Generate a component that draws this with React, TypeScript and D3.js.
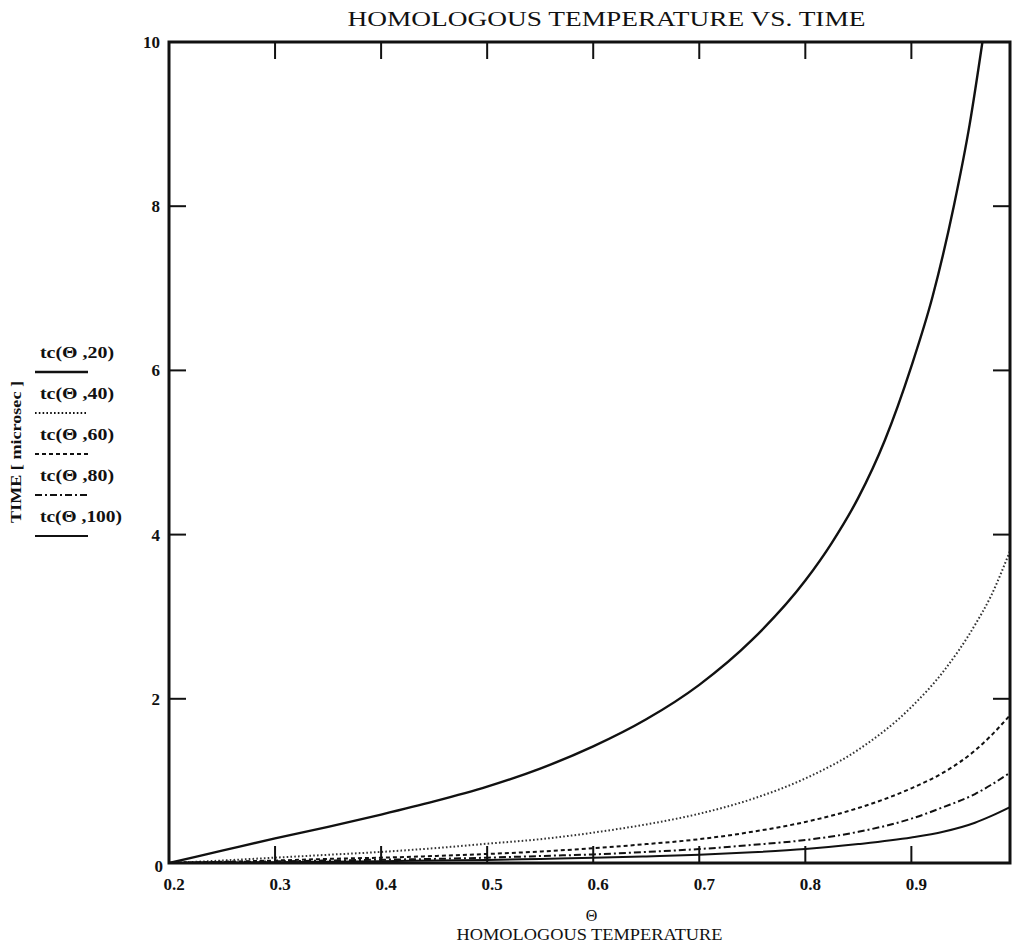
import React from "react";
import * as d3 from "d3";

// ---------- data ----------
const theta20 = [0.2, 0.25, 0.3, 0.35, 0.4, 0.45, 0.5, 0.55, 0.6, 0.65, 0.7, 0.75, 0.8, 0.825, 0.85, 0.875, 0.9, 0.92, 0.94, 0.955, 0.967];
const tc20 = [0, 0.15, 0.3, 0.44, 0.59, 0.75, 0.93, 1.15, 1.42, 1.75, 2.17, 2.72, 3.44, 3.9, 4.45, 5.15, 6.05, 6.9, 8.0, 9.0, 10.0];

const theta = [0.2, 0.25, 0.3, 0.35, 0.4, 0.45, 0.5, 0.55, 0.6, 0.65, 0.7, 0.75, 0.8, 0.85, 0.9, 0.93, 0.96, 0.975, 0.993];
const tc40 = [0, 0.03, 0.065, 0.1, 0.135, 0.18, 0.235, 0.29, 0.37, 0.47, 0.6, 0.78, 1.03, 1.38, 1.9, 2.33, 2.9, 3.25, 3.8];
const tc60 = [0, 0.015, 0.03, 0.05, 0.065, 0.085, 0.11, 0.14, 0.18, 0.23, 0.29, 0.38, 0.5, 0.67, 0.91, 1.1, 1.37, 1.55, 1.8];
const tc80 = [0, 0.01, 0.02, 0.03, 0.04, 0.05, 0.065, 0.085, 0.105, 0.135, 0.17, 0.22, 0.28, 0.38, 0.54, 0.68, 0.84, 0.95, 1.1];
const tc100 = [0, 0.005, 0.01, 0.016, 0.022, 0.03, 0.038, 0.05, 0.063, 0.08, 0.1, 0.13, 0.17, 0.23, 0.31, 0.38, 0.49, 0.57, 0.68];

const seriesLabels = ["tc(\u0398 ,20)", "tc(\u0398 ,40)", "tc(\u0398 ,60)", "tc(\u0398 ,80)", "tc(\u0398 ,100)"];
const xTicks = [0.2, 0.3, 0.4, 0.5, 0.6, 0.7, 0.8, 0.9];
const xTickLabels = ["0.2", "0.3", "0.4", "0.5", "0.6", "0.7", "0.8", "0.9"];
const yTicks = [0, 2, 4, 6, 8, 10];
const yTickLabels = ["0", "2", "4", "6", "8", "10"];

const title = "HOMOLOGOUS TEMPERATURE VS. TIME";
const xTitle = "HOMOLOGOUS TEMPERATURE";
const yTitle = "TIME [ microsec ]";

// ---------- layout ----------
const W = 1013;
const H = 951;
const left = 169;
const right = 1010;
const top = 42;
const bottom = 863;
const FONT = "'Liberation Serif', 'DejaVu Serif', serif";

const dashes = ["none", "1.6,2.2", "4,3", "7,3,2,3", "none"];
const widths = [2.4, 2, 2, 2, 2];

export default function App() {
  const x = d3.scaleLinear().domain([0.2, 0.993]).range([left, right]);
  const y = d3.scaleLinear().domain([0, 10]).range([bottom, top]);

  const line = d3
    .line<[number, number]>()
    .x((d) => x(d[0]))
    .y((d) => y(d[1]))
    .curve(d3.curveMonotoneX);

  const series: [number, number][][] = [
    theta20.map((t, i) => [t, tc20[i]]),
    theta.map((t, i) => [t, tc40[i]]),
    theta.map((t, i) => [t, tc60[i]]),
    theta.map((t, i) => [t, tc80[i]]),
    theta.map((t, i) => [t, tc100[i]]),
  ];

  const tickLen = 17;
  const legendY0 = 352;
  const legendStep = 41;

  return (
    <div style={{ position: "absolute", left: 0, top: 0 }}>
      <svg width={W} height={H} style={{ display: "block", background: "#fff" }} fontFamily={FONT}>
        <defs>
          <clipPath id="plotclip">
            <rect x={left} y={top} width={right - left} height={bottom - top} />
          </clipPath>
        </defs>

        {/* title */}
        <text x={(left + right) / 2 + 17} y={26} textAnchor="middle" fontSize={20} textLength={518} lengthAdjust="spacingAndGlyphs" fill="#111">
          {title}
        </text>

        {/* curves */}
        <g clipPath="url(#plotclip)">
          {series.map((s, i) => (
            <path
              key={i}
              d={line(s) || ""}
              fill="none"
              stroke={i === 1 ? "#333" : "#111"}
              strokeWidth={widths[i]}
              strokeDasharray={dashes[i]}
            />
          ))}
        </g>

        {/* frame */}
        <rect x={left} y={top} width={right - left} height={bottom - top} fill="none" stroke="#111" strokeWidth={3} />

        {/* x ticks */}
        {xTicks.map((t, i) => (
          <g key={"xt" + i}>
            {i > 0 && (
              <>
                <line x1={x(t)} x2={x(t)} y1={bottom} y2={bottom - tickLen} stroke="#111" strokeWidth={2} />
                <line x1={x(t)} x2={x(t)} y1={top} y2={top + tickLen} stroke="#111" strokeWidth={2} />
              </>
            )}
            <text x={x(t) + 5} y={890} textAnchor="middle" fontSize={17} fontWeight="bold" fill="#111">
              {xTickLabels[i]}
            </text>
          </g>
        ))}

        {/* y ticks */}
        {yTicks.map((t, i) => (
          <g key={"yt" + i}>
            {i > 0 && i < yTicks.length - 1 && (
              <>
                <line x1={left} x2={left + tickLen} y1={y(t)} y2={y(t)} stroke="#111" strokeWidth={2} />
                <line x1={right} x2={right - tickLen} y1={y(t)} y2={y(t)} stroke="#111" strokeWidth={2} />
              </>
            )}
            <text x={i === 0 ? 163 : 160} y={y(t) + (i === 0 ? 9 : 6)} textAnchor="end" fontSize={17} fontWeight="bold" fill="#111">
              {yTickLabels[i]}
            </text>
          </g>
        ))}

        {/* x axis title */}
        <text x={(left + right) / 2 + 2} y={921} textAnchor="middle" fontSize={16} fill="#111">
          {"\u0398"}
        </text>
        <text x={(left + right) / 2} y={940} textAnchor="middle" fontSize={17} textLength={266} lengthAdjust="spacingAndGlyphs" fill="#111">
          {xTitle}
        </text>

        {/* y axis title */}
        <text
          transform={`translate(21,452) rotate(-90)`}
          textAnchor="middle"
          fontSize={15}
          fontWeight="bold"
          textLength={142}
          lengthAdjust="spacingAndGlyphs"
          fill="#111"
        >
          {yTitle}
        </text>

        {/* legend (stacked labels with line samples) */}
        {seriesLabels.map((lab, i) => {
          const ly = legendY0 + i * legendStep;
          return (
            <g key={"lg" + i}>
              <text x={40} y={ly + 6} fontSize={16} fontWeight="bold" textLength={i === 4 ? 82 : 74} lengthAdjust="spacingAndGlyphs" fill="#111">
                {lab}
              </text>
              <line
                x1={35}
                x2={88}
                y1={ly + 20}
                y2={ly + 20}
                stroke="#111"
                strokeWidth={widths[i]}
                strokeDasharray={dashes[i]}
              />
            </g>
          );
        })}
      </svg>
    </div>
  );
}
